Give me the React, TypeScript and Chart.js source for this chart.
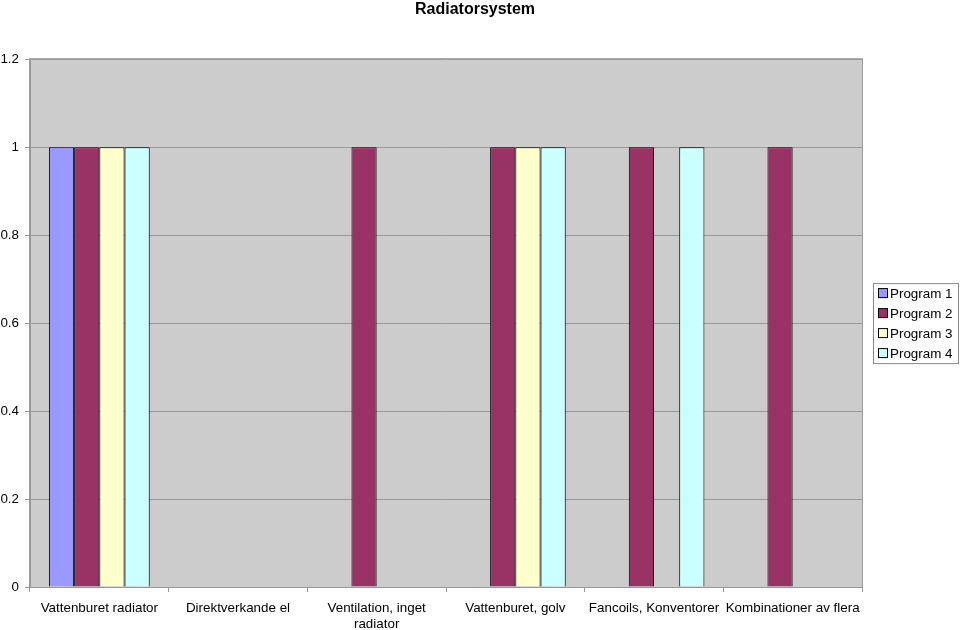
import React, { useEffect, useRef } from "react";
import { Chart, registerables } from "chart.js";

Chart.register(...registerables);

const categories: (string | string[])[] = [
  "Vattenburet radiator",
  "Direktverkande el",
  ["Ventilation, inget", "radiator"],
  "Vattenburet, golv",
  "Fancoils, Konventorer",
  "Kombinationer av flera",
];

const program1: (number | null)[] = [1, null, null, null, null, null];
const program2: (number | null)[] = [1, null, 1, 1, 1, 1];
const program3: (number | null)[] = [1, null, null, 1, null, null];
const program4: (number | null)[] = [1, null, null, 1, 1, null];

const seriesNames = ["Program 1", "Program 2", "Program 3", "Program 4"];
const seriesColors = ["#9999ff", "#993366", "#ffffcc", "#ccffff"];

const yMin = 0;
const yMax = 1.2;
const yStep = 0.2;

const FONT = 'Arial, "Liberation Sans", sans-serif';

const bgPlugin = {
  id: "plotBg",
  beforeDraw(chart: any) {
    const { ctx, chartArea } = chart;
    ctx.save();
    ctx.fillStyle = "#cccccc";
    ctx.fillRect(chartArea.left, chartArea.top, chartArea.right - chartArea.left, chartArea.bottom - chartArea.top);
    ctx.restore();
  },
  afterDraw(chart: any) {
    const { ctx, chartArea } = chart;
    ctx.save();
    ctx.strokeStyle = "#999999";
    ctx.lineWidth = 1;
    ctx.strokeRect(chartArea.left - 0.5, chartArea.top - 0.5, chartArea.right - chartArea.left + 1, chartArea.bottom - chartArea.top + 1);
    ctx.restore();

    // legend
    const cy = (chartArea.top + chartArea.bottom) / 2;
    const left = chartArea.right + 11;
    const right = 958;
    ctx.save();
    ctx.strokeStyle = "#888888";
    ctx.lineWidth = 1;
    ctx.strokeRect(left + 0.5, cy - 40 + 0.5, right - left, 80);
    ctx.font = "13.4px " + FONT;
    ctx.textBaseline = "middle";
    ctx.textAlign = "left";
    chart.data.datasets.forEach((ds: any, i: number) => {
      const y = cy - 30 + i * 20;
      ctx.fillStyle = ds.backgroundColor;
      ctx.fillRect(left + 5.5, y - 4.5, 9, 9);
      ctx.strokeStyle = "#000000";
      ctx.strokeRect(left + 5.5, y - 4.5, 9, 9);
      ctx.fillStyle = "#000000";
      ctx.fillText(ds.label, left + 17, y + 1);
    });
    ctx.restore();
  },
};

export default function App() {
  const ref = useRef<HTMLCanvasElement>(null);
  useEffect(() => {
    document.body.style.margin = "0";
    const canvas = ref.current!;
    const data = [program1, program2, program3, program4];
    const chart = new Chart(canvas, {
      type: "bar",
      data: {
        labels: categories as any,
        datasets: data.map((d, i) => ({
          label: seriesNames[i],
          data: d,
          backgroundColor: seriesColors[i],
          borderColor: "#000000",
          borderWidth: 1,
          barPercentage: 1,
          categoryPercentage: 4 / 5.5,
          yAxisID: "y",
        })),
      },
      options: {
        animation: false,
        responsive: false,
        maintainAspectRatio: false,
        layout: { padding: { left: 0, right: 10, top: 0, bottom: 0 } },
        plugins: {
          legend: { display: false },
          tooltip: { enabled: false },
          title: {
            display: true,
            text: "Radiatorsystem",
            color: "#000",
            font: { family: FONT, size: 16, weight: "bold" },
            padding: { top: 0, bottom: 40 },
          },
        },
        scales: {
          x: {
            grid: {
              offset: true,
              drawOnChartArea: false,
              drawTicks: true,
              tickLength: 5,
              color: "#999999",
            },
            border: { display: true, color: "#999999" },
            ticks: {
              color: "#000",
              font: { family: FONT, size: 13.4 },
              padding: 8,
              maxRotation: 0,
              autoSkip: false,
            },
            afterFit(scale: any) {
              scale.height = 43;
            },
          },
          y: {
            min: yMin,
            max: yMax,
            ticks: {
              stepSize: yStep,
              color: "#000",
              font: { family: FONT, size: 13.4 },
              padding: 6,
              callback: (v: any) => String(Number(Number(v).toFixed(1))),
            },
            grid: {
              color: "#999999",
              drawTicks: true,
              tickLength: 5,
            },
            border: { display: true, color: "#999999" },
            afterFit(scale: any) {
              scale.width = 30;
            },
          },
          spacer: {
            type: "linear",
            position: "right",
            display: true,
            grid: { display: false, drawTicks: false },
            border: { display: false },
            ticks: { display: false },
            afterFit(scale: any) {
              scale.width = 88;
            },
          },
        },
      },
      plugins: [bgPlugin],
    });
    return () => chart.destroy();
  }, []);
  return <canvas ref={ref} width={960} height={630} style={{ display: "block" }} />;
}
